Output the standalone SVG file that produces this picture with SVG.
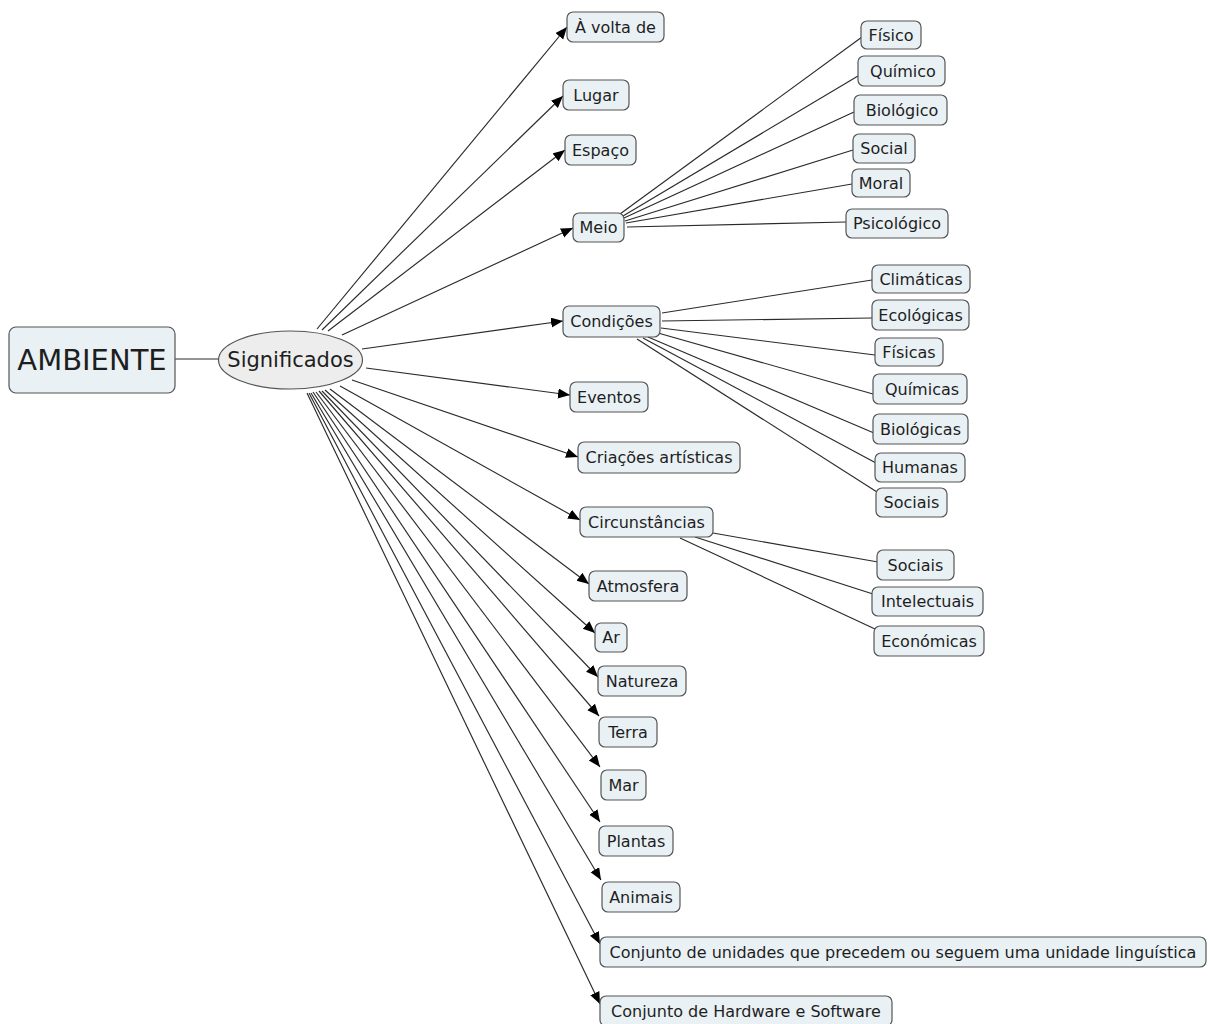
<svg xmlns="http://www.w3.org/2000/svg" width="1210" height="1024" viewBox="0 0 1210 1024">
<defs>
<marker id="arr" markerUnits="userSpaceOnUse" markerWidth="13" markerHeight="11" refX="12" refY="5" orient="auto">
<path d="M0,0 L12,5 L0,10 z" fill="#000"/>
</marker>
<style>
.n rect{fill:#e9f1f5;stroke:#555;stroke-width:1.2}
.n text{font-family:"DejaVu Sans",Verdana,sans-serif;font-size:16px;fill:#1e1e1e;text-anchor:middle}
.c line{stroke:#2a2a2a;stroke-width:1.15}
.c .a{marker-end:url(#arr)}
</style>
</defs>
<rect width="1210" height="1024" fill="#fff"/>
<g class="c" id="connectors">
<line x1="175" y1="359" x2="218" y2="359"/>
<line class="a" x1="317" y1="329" x2="567" y2="27"/>
<line class="a" x1="322" y1="330" x2="563" y2="96"/>
<line class="a" x1="328" y1="331" x2="565" y2="150"/>
<line class="a" x1="342" y1="335" x2="573" y2="228"/>
<line class="a" x1="362" y1="349" x2="563" y2="321"/>
<line class="a" x1="366" y1="368" x2="570" y2="395"/>
<line class="a" x1="352" y1="380" x2="578" y2="457"/>
<line class="a" x1="340" y1="386" x2="580" y2="520"/>
<line class="a" x1="330" y1="389" x2="589" y2="584"/>
<line class="a" x1="325" y1="390" x2="595" y2="633"/>
<line class="a" x1="322" y1="391" x2="598" y2="677"/>
<line class="a" x1="319" y1="391" x2="599" y2="716"/>
<line class="a" x1="316" y1="392" x2="600" y2="767"/>
<line class="a" x1="313" y1="392" x2="600" y2="822"/>
<line class="a" x1="311" y1="393" x2="601" y2="880"/>
<line class="a" x1="309" y1="393" x2="600" y2="944"/>
<line class="a" x1="307" y1="393" x2="600" y2="1004"/>
<line x1="620" y1="214" x2="862" y2="37"/>
<line x1="623" y1="216" x2="858" y2="76"/>
<line x1="624" y1="218" x2="854" y2="112"/>
<line x1="625" y1="221" x2="853" y2="150"/>
<line x1="626" y1="223" x2="852" y2="184"/>
<line x1="627" y1="227" x2="846" y2="222"/>
<line x1="662" y1="313" x2="872" y2="280"/>
<line x1="662" y1="321" x2="872" y2="318"/>
<line x1="661" y1="328" x2="875" y2="355"/>
<line x1="658" y1="333" x2="873" y2="394"/>
<line x1="648" y1="337" x2="874" y2="433"/>
<line x1="643" y1="338" x2="876" y2="463"/>
<line x1="637" y1="339" x2="877" y2="492"/>
<line x1="713" y1="533" x2="878" y2="562"/>
<line x1="695" y1="537" x2="873" y2="594"/>
<line x1="680" y1="538" x2="875" y2="629"/>
</g>
<g id="ambiente" class="n">
<rect x="9" y="327" width="166" height="66" rx="7"/>
<text x="92" y="370" style="font-size:29px">AMBIENTE</text>
</g>
<g id="significados" class="n">
<ellipse cx="290.5" cy="360" rx="72" ry="29" fill="#ededed" stroke="#555" stroke-width="1.2"/>
<text x="290.5" y="367" style="font-size:21px">Significados</text>
</g>
<g id="n-avolta" class="n"><rect x="567" y="12" width="97" height="30" rx="6"/><text x="615.5" y="33">À volta de</text></g>
<g id="n-lugar" class="n"><rect x="563" y="80" width="66" height="30" rx="6"/><text x="596" y="101">Lugar</text></g>
<g id="n-espaco" class="n"><rect x="565" y="135" width="71" height="30" rx="6"/><text x="600.5" y="156">Espaço</text></g>
<g id="n-meio" class="n"><rect x="573" y="213" width="51" height="29" rx="6"/><text x="598.5" y="233">Meio</text></g>
<g id="n-condicoes" class="n"><rect x="563" y="306" width="97" height="31" rx="6"/><text x="611.5" y="327">Condições</text></g>
<g id="n-eventos" class="n"><rect x="570" y="382" width="78" height="30" rx="6"/><text x="609" y="403">Eventos</text></g>
<g id="n-criacoes" class="n"><rect x="578" y="442" width="162" height="31" rx="6"/><text x="659" y="463">Criações artísticas</text></g>
<g id="n-circ" class="n"><rect x="580" y="507" width="133" height="30" rx="6"/><text x="646.5" y="528">Circunstâncias</text></g>
<g id="n-atmosfera" class="n"><rect x="589" y="571" width="98" height="30" rx="6"/><text x="638" y="592">Atmosfera</text></g>
<g id="n-ar" class="n"><rect x="595" y="623" width="32" height="29" rx="6"/><text x="611" y="643">Ar</text></g>
<g id="n-natureza" class="n"><rect x="598" y="666" width="88" height="30" rx="6"/><text x="642" y="687">Natureza</text></g>
<g id="n-terra" class="n"><rect x="599" y="717" width="58" height="30" rx="6"/><text x="628" y="738">Terra</text></g>
<g id="n-mar" class="n"><rect x="601" y="770" width="45" height="30" rx="6"/><text x="623.5" y="791">Mar</text></g>
<g id="n-plantas" class="n"><rect x="599" y="826" width="74" height="30" rx="6"/><text x="636" y="847">Plantas</text></g>
<g id="n-animais" class="n"><rect x="602" y="882" width="78" height="30" rx="6"/><text x="641" y="903">Animais</text></g>
<g id="n-conj1" class="n"><rect x="600" y="937" width="606" height="30" rx="6"/><text x="903" y="958">Conjunto de unidades que precedem ou seguem uma unidade linguística</text></g>
<g id="n-conj2" class="n"><rect x="600" y="996" width="292" height="30" rx="6"/><text x="746" y="1017">Conjunto de Hardware e Software</text></g>
<g id="n-fisico" class="n"><rect x="861" y="21" width="60" height="28" rx="6"/><text x="891" y="41">Físico</text></g>
<g id="n-quimico" class="n"><rect x="858" y="56" width="87" height="30" rx="6"/><text x="903" y="77">Químico</text></g>
<g id="n-biologico" class="n"><rect x="854" y="95" width="93" height="30" rx="6"/><text x="902" y="116">Biológico</text></g>
<g id="n-social" class="n"><rect x="853" y="134" width="62" height="29" rx="6"/><text x="884" y="154">Social</text></g>
<g id="n-moral" class="n"><rect x="852" y="169" width="58" height="28" rx="6"/><text x="881" y="189">Moral</text></g>
<g id="n-psicologico" class="n"><rect x="846" y="209" width="102" height="29" rx="6"/><text x="897" y="229">Psicológico</text></g>
<g id="n-climaticas" class="n"><rect x="872" y="265" width="98" height="28" rx="6"/><text x="921" y="285">Climáticas</text></g>
<g id="n-ecologicas" class="n"><rect x="872" y="300" width="97" height="30" rx="6"/><text x="920.5" y="321">Ecológicas</text></g>
<g id="n-fisicas" class="n"><rect x="875" y="338" width="68" height="28" rx="6"/><text x="909" y="358">Físicas</text></g>
<g id="n-quimicas" class="n"><rect x="873" y="374" width="94" height="30" rx="6"/><text x="922" y="395">Químicas</text></g>
<g id="n-biologicas" class="n"><rect x="873" y="414" width="95" height="30" rx="6"/><text x="920.5" y="435">Biológicas</text></g>
<g id="n-humanas" class="n"><rect x="875" y="453" width="90" height="29" rx="6"/><text x="920" y="473">Humanas</text></g>
<g id="n-sociais1" class="n"><rect x="876" y="488" width="71" height="29" rx="6"/><text x="911.5" y="508">Sociais</text></g>
<g id="n-sociais2" class="n"><rect x="877" y="550" width="77" height="30" rx="6"/><text x="915.5" y="571">Sociais</text></g>
<g id="n-intelectuais" class="n"><rect x="872" y="587" width="111" height="29" rx="6"/><text x="927.5" y="607">Intelectuais</text></g>
<g id="n-economicas" class="n"><rect x="874" y="626" width="110" height="30" rx="6"/><text x="929" y="647">Económicas</text></g>
</svg>
